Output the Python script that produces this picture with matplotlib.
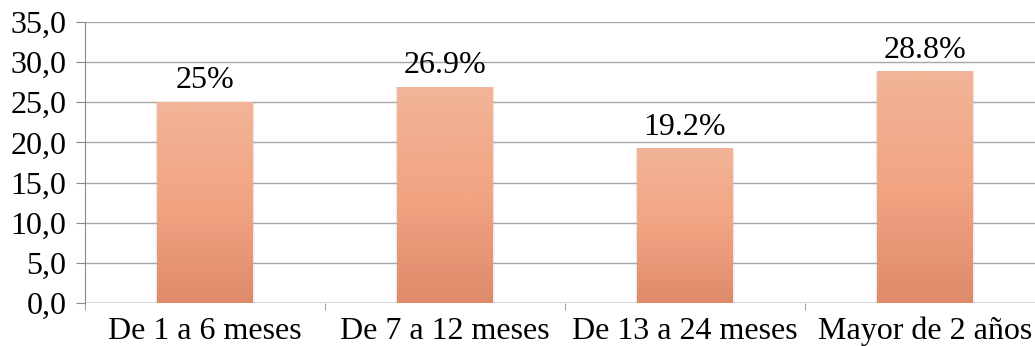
import numpy as np
import matplotlib
matplotlib.use('Agg')
import matplotlib.pyplot as plt
from matplotlib.colors import LinearSegmentedColormap

categorias = ['De 1 a 6 meses', 'De 7 a 12 meses', 'De 13 a 24 meses', 'Mayor de 2 años']
valores = [25.0, 26.9, 19.2, 28.8]
etiquetas = ['25%', '26.9%', '19.2%', '28.8%']
yticks = [0, 5, 10, 15, 20, 25, 30, 35]

plt.rcParams['font.family'] = ['Liberation Serif', 'DejaVu Serif']

fig = plt.figure(figsize=(10.35, 3.46), dpi=100)
ax = fig.add_axes([85/1035, 43/346, 960/1035, 281/346])

cmap = LinearSegmentedColormap.from_list('salmon', ['#DE8A6B', '#F2A483', '#F2B498'])
grad = np.linspace(0, 1, 256).reshape(-1, 1)
ancho = 0.4
x = np.arange(len(categorias))

for xi, v, lab in zip(x, valores, etiquetas):
    # sombra suave
    for k, a in [(0.02, 0.10), (0.01, 0.15)]:
        ax.bar(xi, v + 0.15, width=ancho + k, bottom=-0.15, color='#b0b0b0', alpha=a, zorder=2, linewidth=0)
    ax.imshow(grad, cmap=cmap, origin='lower', aspect='auto',
              extent=[xi - ancho/2, xi + ancho/2, 0, v], zorder=3)
    ax.annotate(lab, (xi, v), xytext=(0, 5), textcoords='offset points',
                ha='center', va='bottom', fontsize=23)

ax.set_xlim(-0.5, 3.5)
ax.set_ylim(0, 35)
ax.set_yticks(yticks)
ax.set_yticklabels([f'{t:.1f}'.replace('.', ',') for t in yticks])
ax.set_xticks(x)
ax.set_xticklabels(categorias)
ax.set_xticks(np.arange(-0.5, 4, 1), minor=True)
ax.tick_params(axis='x', which='major', length=0, labelsize=23, pad=10)
ax.tick_params(axis='x', which='minor', length=5, color='#888888', direction='out')
ax.tick_params(axis='y', length=6.5, color='#888888', labelsize=23, pad=7)

ax.grid(axis='y', color='#a6a6a6', linewidth=1)
ax.set_axisbelow(True)
for s in ['top', 'right', 'bottom']:
    ax.spines[s].set_visible(False)
ax.spines['left'].set_color('#888888')
ax.axhline(0, color='#888888', linewidth=1, zorder=1)

fig.savefig('out.png', dpi=100)
